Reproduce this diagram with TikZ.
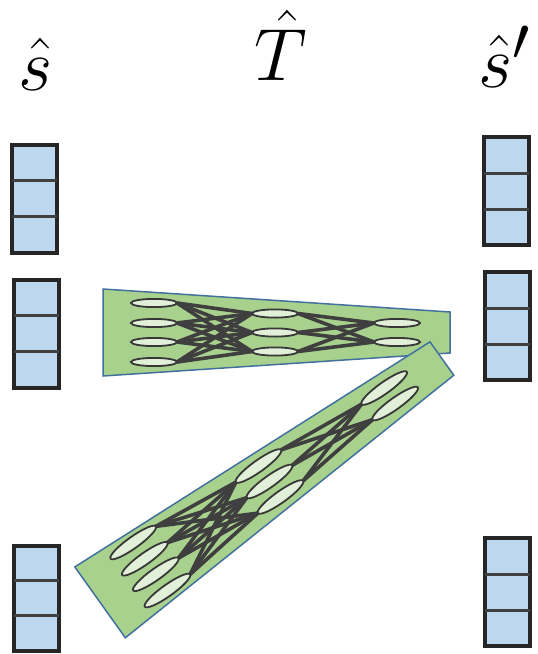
\documentclass[tikz,border=0pt]{standalone}
\usetikzlibrary{calc,shapes.geometric}

\definecolor{cellblue}{HTML}{BDD7EE}
\definecolor{boxline}{HTML}{262626}
\definecolor{divline}{HTML}{404040}
\definecolor{panelgreen}{HTML}{A9D18E}
\definecolor{panelline}{HTML}{41719C}
\definecolor{neuronfill}{HTML}{E2F0D9}
\definecolor{neuronline}{HTML}{383838}
\definecolor{wirecol}{HTML}{3F3F3F}

\pgfdeclarelayer{panelA}
\pgfdeclarelayer{wireA}
\pgfdeclarelayer{nodeA}
\pgfdeclarelayer{panelB}
\pgfdeclarelayer{wireB}
\pgfdeclarelayer{nodeB}
\pgfsetlayers{panelA,wireA,nodeA,panelB,wireB,nodeB,main}

% a 4-3-2 perceptron on its tapered green panel, in local coordinates
% #1 name prefix, #2 panel layer, #3 wire layer, #4 neuron layer, #5 neuron height
\newcommand{\mlpnet}[5]{%
  \begin{pgfonlayer}{#2}
    \draw[panel] (-172,-43.5) -- (175,-20.5) -- (175,20.5) -- (-172,43.5) -- cycle;
  \end{pgfonlayer}
  \begin{pgfonlayer}{#4}
    \foreach \ia/\va in {1/-29.5,2/-9.5,3/9.5,4/29.5} {\node[neuron, minimum height=#5] (#1a\ia) at (-121,\va) {};}
    \foreach \ia/\va in {1/-19,2/0,3/19} {\node[neuron, minimum height=#5] (#1b\ia) at (0,\va) {};}
    \foreach \ia/\va in {1/-9.5,2/9.5} {\node[neuron, minimum height=#5] (#1c\ia) at (122,\va) {};}
  \end{pgfonlayer}
  \begin{pgfonlayer}{#3}
    \foreach \ia in {1,...,4} {\foreach \ib in {1,2,3} {\draw[wire] (#1a\ia.east) -- (#1b\ib.west);}}
    \foreach \ia in {1,2,3} {\foreach \ib in {1,2} {\draw[wire] (#1b\ia.east) -- (#1c\ib.west);}}
  \end{pgfonlayer}
}

% horizontal rules splitting a vector box into three cells
\newcommand{\cellrules}[1]{%
  \draw[divider] ($(#1.north west)!1/3!(#1.south west)$) -- ($(#1.north east)!1/3!(#1.south east)$);
  \draw[divider] ($(#1.north west)!2/3!(#1.south west)$) -- ($(#1.north east)!2/3!(#1.south east)$);
}

\begin{document}
\begin{tikzpicture}[x=1pt,y=-1pt,
  vecbox/.style={draw=boxline, fill=cellblue, line width=4pt, minimum width=45pt,
    minimum height=108pt, inner sep=0pt, outer sep=0pt},
  divider/.style={draw=divline, line width=3pt},
  panel/.style={fill=panelgreen, draw=panelline, line width=1.5pt, line join=miter},
  neuron/.style={ellipse, draw=neuronline, fill=neuronfill, line width=1.8pt,
    minimum width=46pt, minimum height=8.2pt, inner sep=0pt, outer sep=0pt, transform shape},
  wire/.style={draw=wirecol, line width=3.6pt},
  lab/.style={anchor=base, inner sep=0pt, font=\Huge, scale=2.974}]

\useasboundingbox (0,0) rectangle (538,654);

% titles
\node[lab] (sin)  at (36,90)  {$\hat{s}$};
\node[lab] (tmap) at (281,80) {$\hat{T}$};
\node[lab] (sout) at (505,87) {$\hat{s}'$};

% input vectors
\node[vecbox] (in1) at (34.5,198.5) {};
\node[vecbox] (in2) at (36,333.5) {};
\node[vecbox, minimum height=105pt] (in3) at (36.2,598) {};
\cellrules{in1}\cellrules{in2}\cellrules{in3}

% output vectors
\node[vecbox] (out1) at (506,191) {};
\node[vecbox] (out2) at (507.5,326) {};
\node[vecbox] (out3) at (507.5,592) {};
\cellrules{out1}\cellrules{out2}\cellrules{out3}

% transition networks
\begin{scope}[shift={(275,332.5)}]
  \mlpnet{up}{panelA}{wireA}{nodeA}{8.2pt}
\end{scope}
\begin{scope}[shift={(269.5,481.5)}, rotate=35.5, xscale=1.21]
  \mlpnet{lo}{panelB}{wireB}{nodeB}{11.5pt}
\end{scope}
\end{tikzpicture}
\end{document}
